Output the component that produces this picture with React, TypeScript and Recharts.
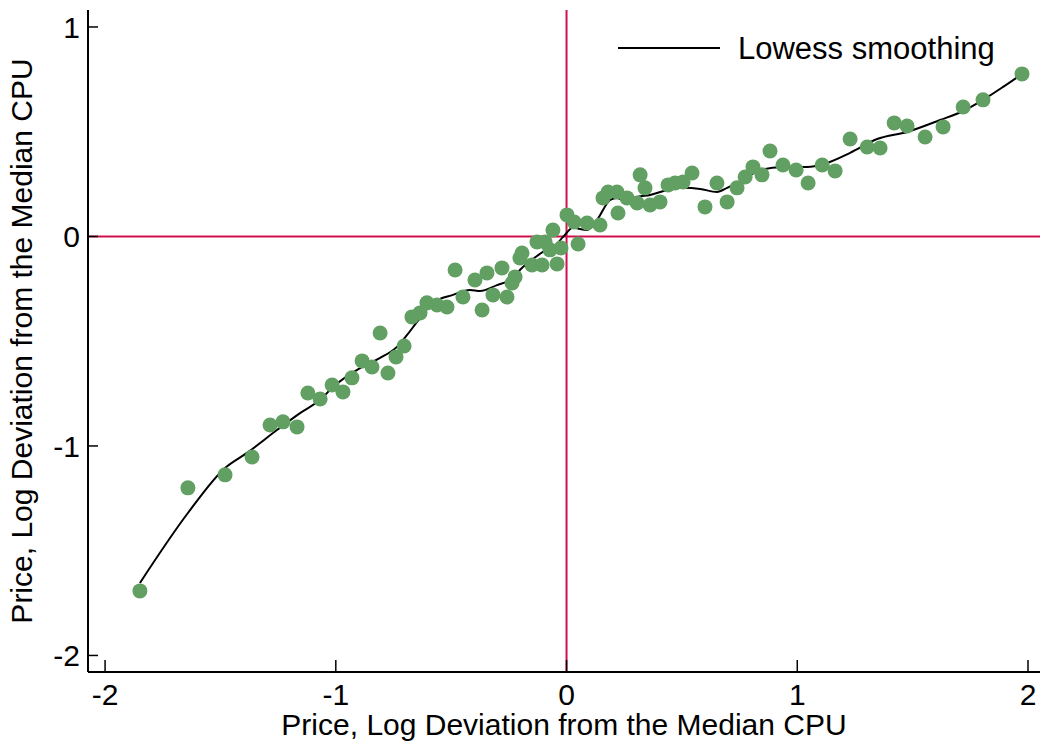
import {
  ComposedChart,
  Scatter,
  Line,
  XAxis,
  YAxis,
  ReferenceLine,
} from 'recharts';

const scatterX = [
  -1.849, -1.641, -1.48, -1.363, -1.285, -1.229, -1.168, -1.121, -1.068, -1.016,
  -0.969, -0.93, -0.886, -0.843, -0.808, -0.774, -0.739, -0.704, -0.67, -0.635,
  -0.605, -0.561, -0.518, -0.483, -0.449, -0.397, -0.366, -0.345, -0.319, -0.28,
  -0.258, -0.236, -0.223, -0.202, -0.193, -0.15, -0.128, -0.106, -0.093, -0.072,
  -0.059, -0.041, -0.024, 0.002, 0.033, 0.05, 0.089, 0.145, 0.158, 0.18,
  0.219, 0.223, 0.262, 0.306, 0.319, 0.34, 0.362, 0.405, 0.44, 0.47,
  0.505, 0.544, 0.6, 0.652, 0.696, 0.739, 0.774, 0.808, 0.847, 0.882,
  0.938, 0.995, 1.047, 1.108, 1.164, 1.229, 1.303, 1.359, 1.42, 1.476,
  1.554, 1.632, 1.719, 1.805, 1.974,
];
const scatterY = [
  -1.692, -1.2, -1.138, -1.053, -0.9, -0.885, -0.909, -0.747, -0.776, -0.709,
  -0.742, -0.675, -0.594, -0.623, -0.461, -0.652, -0.575, -0.523, -0.384, -0.365,
  -0.317, -0.327, -0.337, -0.16, -0.289, -0.208, -0.351, -0.174, -0.279, -0.15,
  -0.289, -0.222, -0.193, -0.103, -0.079, -0.136, -0.026, -0.136, -0.026, -0.064,
  0.031, -0.131, -0.055, 0.103, 0.069, -0.036, 0.064, 0.055, 0.184, 0.212,
  0.212, 0.112, 0.184, 0.16, 0.294, 0.232, 0.15, 0.165, 0.246, 0.255,
  0.26, 0.303, 0.141, 0.255, 0.165, 0.232, 0.284, 0.332, 0.294, 0.408,
  0.341, 0.317, 0.255, 0.341, 0.313, 0.465, 0.427, 0.422, 0.542, 0.527,
  0.475, 0.523, 0.618, 0.652, 0.776,
];

// Lowess fit
const lowessX = [
  -1.849, -1.641, -1.48, -1.385, -1.255, -1.155, -1.068, -1.012, -0.895, -0.808,
  -0.735, -0.691, -0.648, -0.579, -0.492, -0.418, -0.375, -0.301, -0.245, -0.189,
  -0.145, -0.102, -0.059, -0.015, 0.028, 0.089, 0.132, 0.189, 0.219, 0.262,
  0.306, 0.362, 0.436, 0.505, 0.579, 0.652, 0.696, 0.765, 0.839, 0.938,
  1.042, 1.129, 1.229, 1.346, 1.476, 1.619, 1.719, 1.805, 1.892, 1.974,
];
const lowessY = [
  -1.654, -1.32, -1.105, -1.033, -0.924, -0.843, -0.78, -0.718, -0.628, -0.58,
  -0.527, -0.47, -0.408, -0.317, -0.279, -0.255, -0.26, -0.232, -0.208, -0.146,
  -0.107, -0.074, -0.055, -0.002, 0.041, 0.031, 0.079, 0.174, 0.184, 0.165,
  0.189, 0.198, 0.222, 0.232, 0.227, 0.212, 0.232, 0.27, 0.317, 0.332,
  0.332, 0.351, 0.399, 0.465, 0.499, 0.556, 0.599, 0.652, 0.714, 0.776,
];

const xTicks = [-2, -1, 0, 1, 2];
const yTicks = [-2, -1, 0, 1];

const axisTitle = 'Price, Log Deviation from the Median CPU';
const legendLabel = 'Lowess smoothing';

const scatterData = scatterX.map((x, i) => ({ x, y: scatterY[i] }));
const lowessData = lowessX.map((x, i) => ({ x, y: lowessY[i] }));

const FONT = '"Liberation Sans", Arial, sans-serif';
const GREEN = '#61a062';
const CRIMSON = '#d0104c';

const Dot = (props: any) => {
  const { cx, cy } = props;
  if (cx == null || cy == null) return null;
  return <circle cx={cx} cy={cy} r={7.5} fill={GREEN} />;
};

export default function App() {
  return (
    <div style={{ position: 'absolute', left: 0, top: 0, background: '#fff' }}>
      <ComposedChart
        width={1042}
        height={747}
        margin={{ top: 10, right: 2, bottom: 0, left: 0 }}
        style={{ fontFamily: FONT }}
      >
        <XAxis
          type="number"
          dataKey="x"
          domain={[-2.074, 2.052]}
          allowDataOverflow
          ticks={xTicks}
          height={75}
          axisLine={{ stroke: '#000', strokeWidth: 2 }}
          tickLine={{ stroke: '#000', strokeWidth: 1.5 }}
          tickSize={-12}
          tickMargin={24}
          tick={{ fill: '#000', fontSize: 30, fontFamily: FONT }}
          label={{
            value: axisTitle,
            position: 'insideBottom',
            offset: 12,
            fill: '#000',
            fontSize: 30,
            fontFamily: FONT,
          }}
        />
        <YAxis
          type="number"
          dataKey="y"
          domain={[-2.079, 1.081]}
          allowDataOverflow
          ticks={yTicks}
          width={88}
          axisLine={{ stroke: '#000', strokeWidth: 2 }}
          tickLine={{ stroke: '#000', strokeWidth: 1.5 }}
          tickSize={-10}
          tickMargin={18}
          tick={{ fill: '#000', fontSize: 30, fontFamily: FONT }}
          label={{
            value: axisTitle,
            angle: -90,
            position: 'insideLeft',
            offset: 21,
            style: { textAnchor: 'middle' },
            fill: '#000',
            fontSize: 30,
            fontFamily: FONT,
          }}
        />
        <ReferenceLine x={0} stroke={CRIMSON} strokeWidth={2} />
        <ReferenceLine y={0} stroke={CRIMSON} strokeWidth={2} />
        <Scatter
          data={scatterData}
          dataKey="y"
          shape={Dot}
          isAnimationActive={false}
          legendType="none"
        />
        <Line
          data={lowessData}
          dataKey="y"
          type="monotone"
          stroke="#000"
          strokeWidth={2}
          dot={false}
          activeDot={false}
          isAnimationActive={false}
        />
      </ComposedChart>
      <svg
        width={420}
        height={50}
        style={{ position: 'absolute', left: 600, top: 23 }}
      >
        <line x1={18} y1={25} x2={120} y2={25} stroke="#000" strokeWidth={2} />
        <text x={138} y={36} fontFamily={FONT} fontSize={31} fill="#000">
          {legendLabel}
        </text>
      </svg>
    </div>
  );
}
